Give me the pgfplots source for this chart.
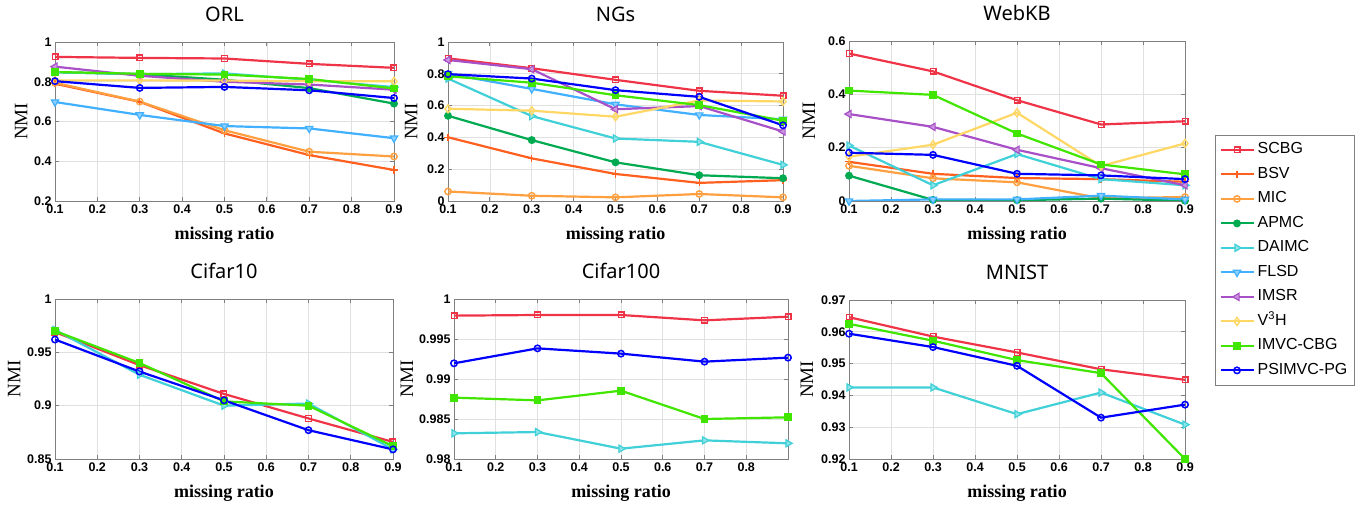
\documentclass[border=0pt]{standalone}
\usepackage{pgfplots}
\pgfplotsset{compat=1.18}
\usepackage{fontspec}
\setmainfont{Liberation Serif}
\newfontfamily\arialf{Liberation Sans}
\newfontfamily\titlef{Noto Sans}

\definecolor{cSCBG}{RGB}{240,52,72}
\definecolor{cBSV}{RGB}{255,96,32}
\definecolor{cMIC}{RGB}{255,160,64}
\definecolor{cAPMC}{RGB}{0,170,80}
\definecolor{cDAIMC}{RGB}{64,208,216}
\definecolor{cFLSD}{RGB}{64,176,255}
\definecolor{cIMSR}{RGB}{168,80,200}
\definecolor{cVH}{RGB}{255,215,100}
\definecolor{cIMVC}{RGB}{64,230,0}
\definecolor{cPSI}{RGB}{0,0,255}

\pgfplotsset{
  myax/.style={
    scale only axis,
    xmin=0.1, xmax=0.9,
    xtick={0.1,0.2,0.3,0.4,0.5,0.6,0.7,0.8,0.9},
    grid=major,
    major grid style={black!12, line width=0.6pt},
    axis line style={black!50, line width=0.8pt},
    tick style={black!50, line width=0.8pt},
    tick align=inside, major tick length=4pt,
    tick label style={font=\arialf\bfseries\fontsize{12.5}{13}\selectfont},
    /pgf/number format/assume math mode=true,
    scaled y ticks=false,
    yticklabel style={/pgf/number format/fixed, /pgf/number format/precision=3},
    xticklabel style={/pgf/number format/fixed, /pgf/number format/precision=1},
    title style={font=\titlef\fontsize{20}{24}\selectfont, at={(axis description cs:0.5,1)}, anchor=center, yshift=22pt},
    xlabel={missing ratio},
    xlabel style={font=\bfseries\fontsize{18}{20}\selectfont, at={(axis description cs:0.5,0)}, anchor=center, yshift=-34pt},
    ylabel={NMI},
    ylabel style={font=\fontsize{19}{20}\selectfont, anchor=center},
    legend image code/.code={\draw[mark repeat=2,mark phase=2] plot coordinates {(0pt,0pt) (16.5pt,0pt) (33pt,0pt)};},
  },
  sSCBG/.style={color=cSCBG, line width=2.2pt, mark=square, mark size=2.8pt, mark options={solid, line width=1.4pt, fill=cSCBG!45}},
  sBSV/.style={color=cBSV, line width=2.2pt, mark=+, mark size=3.6pt, mark options={solid, line width=1.4pt}},
  sMIC/.style={color=cMIC, line width=2.2pt, mark=o, mark size=3.2pt, mark options={solid, line width=1.4pt}},
  sAPMC/.style={color=cAPMC, line width=2.2pt, mark=*, mark size=2.8pt, mark options={solid}},
  sDAIMC/.style={color=cDAIMC, line width=2.2pt, mark=triangle*, mark size=4.2pt, mark options={solid, rotate=-90, fill=cDAIMC!60, line width=1.2pt}},
  sFLSD/.style={color=cFLSD, line width=2.2pt, mark=triangle*, mark size=4.2pt, mark options={solid, rotate=180, fill=cFLSD!60, line width=1.2pt}},
  sIMSR/.style={color=cIMSR, line width=2.2pt, mark=triangle*, mark size=4.2pt, mark options={solid, rotate=90, fill=cIMSR!60, line width=1.2pt}},
  sVH/.style={color=cVH, line width=2.2pt, mark=diamond, mark size=4pt, mark options={solid, line width=1.4pt}},
  sIMVC/.style={color=cIMVC, line width=2.2pt, mark=square*, mark size=2.8pt, mark options={solid}},
  sPSI/.style={color=cPSI, line width=2.2pt, mark=o, mark size=3.2pt, mark options={solid, line width=1.5pt}},
}

\begin{document}
\begin{tikzpicture}
\useasboundingbox (0pt,0pt) rectangle (1364pt,508pt);

% ORL
\begin{axis}[myax, at={(55pt,307pt)}, anchor=south west, width=339pt, height=159pt,
  title={ORL}, ymin=0.2, ymax=1, ytick={0.2,0.4,0.6,0.8,1},
  ylabel style={at={(axis description cs:-0.100,0.5)}}]
\addplot[sSCBG] coordinates {(0.1,0.925)(0.3,0.920)(0.5,0.917)(0.7,0.890)(0.9,0.870)};
\addplot[sBSV] coordinates {(0.1,0.790)(0.3,0.699)(0.5,0.540)(0.7,0.431)(0.9,0.356)};
\addplot[sMIC] coordinates {(0.1,0.795)(0.3,0.700)(0.5,0.556)(0.7,0.448)(0.9,0.424)};
\addplot[sAPMC] coordinates {(0.1,0.848)(0.3,0.838)(0.5,0.810)(0.7,0.768)(0.9,0.690)};
\addplot[sDAIMC] coordinates {(0.1,0.848)(0.3,0.838)(0.5,0.842)(0.7,0.810)(0.9,0.773)};
\addplot[sFLSD] coordinates {(0.1,0.698)(0.3,0.633)(0.5,0.577)(0.7,0.565)(0.9,0.516)};
\addplot[sIMSR] coordinates {(0.1,0.876)(0.3,0.830)(0.5,0.800)(0.7,0.786)(0.9,0.760)};
\addplot[sVH] coordinates {(0.1,0.807)(0.3,0.807)(0.5,0.806)(0.7,0.803)(0.9,0.802)};
\addplot[sIMVC] coordinates {(0.1,0.849)(0.3,0.840)(0.5,0.836)(0.7,0.814)(0.9,0.766)};
\addplot[sPSI] coordinates {(0.1,0.803)(0.3,0.769)(0.5,0.774)(0.7,0.757)(0.9,0.718)};
\end{axis}

% NGs
\begin{axis}[myax, at={(448pt,307pt)}, anchor=south west, width=335pt, height=159pt,
  title={NGs}, ymin=0, ymax=1, ytick={0,0.2,0.4,0.6,0.8,1},
  ylabel style={at={(axis description cs:-0.110,0.5)}}]
\addplot[sSCBG] coordinates {(0.1,0.897)(0.3,0.835)(0.5,0.762)(0.7,0.693)(0.9,0.662)};
\addplot[sBSV] coordinates {(0.1,0.401)(0.3,0.268)(0.5,0.170)(0.7,0.114)(0.9,0.131)};
\addplot[sMIC] coordinates {(0.1,0.060)(0.3,0.033)(0.5,0.023)(0.7,0.044)(0.9,0.023)};
\addplot[sAPMC] coordinates {(0.1,0.536)(0.3,0.383)(0.5,0.243)(0.7,0.162)(0.9,0.143)};
\addplot[sDAIMC] coordinates {(0.1,0.770)(0.3,0.534)(0.5,0.393)(0.7,0.372)(0.9,0.227)};
\addplot[sFLSD] coordinates {(0.1,0.800)(0.3,0.705)(0.5,0.608)(0.7,0.541)(0.9,0.514)};
\addplot[sIMSR] coordinates {(0.1,0.887)(0.3,0.829)(0.5,0.577)(0.7,0.597)(0.9,0.437)};
\addplot[sVH] coordinates {(0.1,0.580)(0.3,0.568)(0.5,0.530)(0.7,0.632)(0.9,0.626)};
\addplot[sIMVC] coordinates {(0.1,0.784)(0.3,0.744)(0.5,0.665)(0.7,0.603)(0.9,0.505)};
\addplot[sPSI] coordinates {(0.1,0.798)(0.3,0.770)(0.5,0.697)(0.7,0.655)(0.9,0.476)};
\end{axis}

% WebKB
\begin{axis}[myax, at={(849pt,307pt)}, anchor=south west, width=336pt, height=160pt,
  title={WebKB}, ymin=0, ymax=0.6, ytick={0,0.2,0.4,0.6},
  ylabel style={at={(axis description cs:-0.119,0.5)}},
  legend style={at={(rel axis cs:1.0893,0.4125)}, anchor=north west, draw=black!50, line width=0.8pt,
    font=\arialf\fontsize{16}{18}\selectfont, inner xsep=4pt, inner ysep=7pt,
    nodes={inner xsep=3pt, inner ysep=0pt, text height=11.5pt, text depth=3.5pt}, row sep=9.5pt},
  legend cell align=left]
\addplot[sSCBG] coordinates {(0.1,0.553)(0.3,0.486)(0.5,0.378)(0.7,0.287)(0.9,0.299)};
\addplot[sBSV] coordinates {(0.1,0.147)(0.3,0.102)(0.5,0.086)(0.7,0.082)(0.9,0.072)};
\addplot[sMIC] coordinates {(0.1,0.132)(0.3,0.085)(0.5,0.070)(0.7,0.010)(0.9,0.015)};
\addplot[sAPMC] coordinates {(0.1,0.095)(0.3,0.004)(0.5,0.003)(0.7,0.009)(0.9,0.001)};
\addplot[sDAIMC] coordinates {(0.1,0.208)(0.3,0.059)(0.5,0.176)(0.7,0.082)(0.9,0.059)};
\addplot[sFLSD] coordinates {(0.1,0.000)(0.3,0.006)(0.5,0.006)(0.7,0.020)(0.9,0.006)};
\addplot[sIMSR] coordinates {(0.1,0.326)(0.3,0.278)(0.5,0.192)(0.7,0.123)(0.9,0.059)};
\addplot[sVH] coordinates {(0.1,0.166)(0.3,0.211)(0.5,0.331)(0.7,0.131)(0.9,0.216)};
\addplot[sIMVC] coordinates {(0.1,0.414)(0.3,0.398)(0.5,0.253)(0.7,0.137)(0.9,0.100)};
\addplot[sPSI] coordinates {(0.1,0.181)(0.3,0.173)(0.5,0.102)(0.7,0.096)(0.9,0.082)};
\legend{SCBG,BSV,MIC,APMC,DAIMC,FLSD,IMSR,V\textsuperscript{3}H,IMVC-CBG,PSIMVC-PG}
\end{axis}

% Cifar10
\begin{axis}[myax, at={(55pt,49pt)}, anchor=south west, width=338pt, height=160pt,
  title={Cifar10}, ymin=0.85, ymax=1, ytick={0.85,0.9,0.95,1},
  ylabel style={at={(axis description cs:-0.121,0.5)}}]
\addplot[sSCBG] coordinates {(0.1,0.969)(0.3,0.938)(0.5,0.911)(0.7,0.888)(0.9,0.866)};
\addplot[sDAIMC] coordinates {(0.1,0.971)(0.3,0.929)(0.5,0.900)(0.7,0.902)(0.9,0.859)};
\addplot[sIMVC] coordinates {(0.1,0.970)(0.3,0.940)(0.5,0.904)(0.7,0.900)(0.9,0.862)};
\addplot[sPSI] coordinates {(0.1,0.962)(0.3,0.932)(0.5,0.905)(0.7,0.877)(0.9,0.859)};
\end{axis}

% Cifar100
\begin{axis}[myax, at={(454pt,49pt)}, anchor=south west, width=334pt, height=160pt,
  title={Cifar100}, ymin=0.98, ymax=1, ytick={0.98,0.985,0.99,0.995,1},
  xtick={0.1,0.2,0.3,0.4,0.5,0.6,0.7,0.8},
  ylabel style={at={(axis description cs:-0.141,0.5)}}]
\addplot[sSCBG] coordinates {(0.1,0.99792)(0.3,0.99800)(0.5,0.99800)(0.7,0.99733)(0.9,0.99779)};
\addplot[sDAIMC] coordinates {(0.1,0.98321)(0.3,0.98337)(0.5,0.98129)(0.7,0.98233)(0.9,0.98196)};
\addplot[sIMVC] coordinates {(0.1,0.98767)(0.3,0.98733)(0.5,0.98854)(0.7,0.98500)(0.9,0.98521)};
\addplot[sPSI] coordinates {(0.1,0.99196)(0.3,0.99383)(0.5,0.99317)(0.7,0.99217)(0.9,0.99267)};
\end{axis}

% MNIST
\begin{axis}[myax, at={(849pt,49pt)}, anchor=south west, width=336pt, height=159pt,
  title={MNIST}, ymin=0.92, ymax=0.97, ytick={0.92,0.93,0.94,0.95,0.96,0.97},
  ylabel style={at={(axis description cs:-0.125,0.5)}}]
\addplot[sSCBG] coordinates {(0.1,0.9646)(0.3,0.9585)(0.5,0.9535)(0.7,0.9482)(0.9,0.9449)};
\addplot[sDAIMC] coordinates {(0.1,0.9425)(0.3,0.9425)(0.5,0.9341)(0.7,0.9409)(0.9,0.9308)};
\addplot[sIMVC] coordinates {(0.1,0.9625)(0.3,0.9572)(0.5,0.9511)(0.7,0.9470)(0.9,0.9200)};
\addplot[sPSI] coordinates {(0.1,0.9594)(0.3,0.9552)(0.5,0.9493)(0.7,0.9330)(0.9,0.9371)};
\end{axis}
\end{tikzpicture}
\end{document}
